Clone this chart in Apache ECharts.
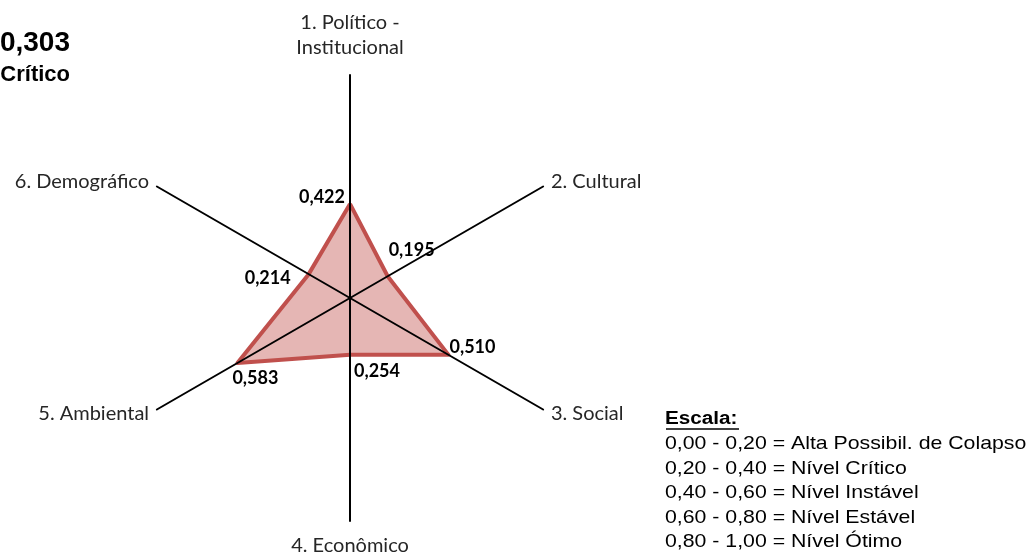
<!DOCTYPE html>
<html>
<head>
<meta charset="utf-8">
<script src="https://cdn.jsdelivr.net/npm/echarts@6/dist/echarts.min.js"></script>
<style>
  html, body { margin: 0; padding: 0; background: #fff; }
  #chart { width: 1032px; height: 553px; }
</style>
</head>
<body>
<div id="chart"></div>
<script>
// Sustainability dimensions, in their numbered order
const dimensions = [
  '1. Político -\nInstitucional',
  '2. Cultural',
  '3. Social',
  '4. Econômico',
  '5. Ambiental',
  '6. Demográfico'
];
// Index of each dimension (0 to 1)
const scores = [0.422, 0.195, 0.510, 0.254, 0.583, 0.214];
const scaleMin = 0;
const scaleMax = 1;

// Overall index and its level
const overallScore = 0.303;
const overallLevel = 'Crítico';

// Scale legend
const scaleTitle = 'Escala:';
const scaleRows = [
  '0,00 - 0,20 = Alta Possibil. de Colapso',
  '0,20 - 0,40 = Nível Crítico',
  '0,40 - 0,60 = Nível Instável',
  '0,60 - 0,80 = Nível Estável',
  '0,80 - 1,00 = Nível Ótimo'
];

const fmt = v => v.toFixed(3).replace('.', ',');

// Radar goes counter-clockwise from the top, so list the dimensions 1, 6, 5, 4, 3, 2
const radarOrder = [0, 5, 4, 3, 2, 1];

// Per-vertex label shift (dx, dy), applied through rich-text padding
const labelShift = [[-28, -7], [24, -26], [24, -8], [27, 17], [18, 15], [-41, 4]];
const labelFont = { fontFamily: 'Lato', fontWeight: 'bold', fontSize: 18, color: '#000' };
const rich = {};
labelShift.forEach(([dx, dy], i) => {
  rich['p' + i] = Object.assign({
    padding: [Math.max(0, 2 * dy), Math.max(0, -2 * dx), Math.max(0, -2 * dy), Math.max(0, 2 * dx)]
  }, labelFont);
});

const chart = echarts.init(document.getElementById('chart'));

const legendX = 665;
const rowY0 = 444;
const rowStep = 24.5;

chart.setOption({
  animation: false,
  backgroundColor: '#fff',
  radar: {
    z: 3,
    center: [350, 298],
    radius: 223,
    startAngle: 90,
    shape: 'polygon',
    splitNumber: 5,
    indicator: radarOrder.map(i => ({ name: dimensions[i], min: scaleMin, max: scaleMax })),
    nameGap: 9,
    axisName: {
      color: '#262626',
      fontFamily: 'Lato',
      fontSize: 20,
      lineHeight: 25,
      padding: [3, 0, 6, 0]
    },
    axisLine: { lineStyle: { color: '#000', width: 2 } },
    axisTick: { show: false },
    axisLabel: { show: false },
    splitLine: { show: false },
    splitArea: { show: false }
  },
  series: [{
    type: 'radar',
    z: 1,
    symbol: 'circle',
    symbolSize: 2,
    itemStyle: { color: '#c0504d' },
    lineStyle: { color: '#c0504d', width: 4 },
    areaStyle: { color: 'rgba(192,80,77,0.42)', opacity: 1 },
    label: {
      show: true,
      position: 'inside',
      align: 'center',
      verticalAlign: 'middle',
      formatter: p => {
        const i = scores.indexOf(p.value);
        return '{p' + i + '|' + fmt(p.value) + '}';
      },
      rich: rich
    },
    data: [{ value: radarOrder.map(i => scores[i]) }]
  }],
  graphic: [
    {
      type: 'text', x: 70, y: 43,
      style: {
        text: fmt(overallScore), align: 'right', verticalAlign: 'middle',
        font: 'bold 28px "Liberation Sans", Arial, sans-serif', fill: '#000'
      }
    },
    {
      type: 'text', x: 70, y: 75,
      style: {
        text: overallLevel, align: 'right', verticalAlign: 'middle',
        font: 'bold 22px "Liberation Sans", Arial, sans-serif', fill: '#000'
      }
    },
    {
      type: 'text', x: legendX, y: 419, scaleX: 1.15,
      style: {
        text: scaleTitle, align: 'left', verticalAlign: 'middle',
        font: 'bold 18px "Liberation Sans", Arial, sans-serif', fill: '#000'
      }
    },
    {
      type: 'line',
      shape: { x1: legendX + 1, y1: 429, x2: legendX + 74, y2: 429 },
      style: { stroke: '#000', lineWidth: 1.5 }
    }
  ].concat(scaleRows.map((t, k) => ({
    type: 'text', x: legendX, y: rowY0 + k * rowStep, scaleX: 1.15,
    style: {
      text: t, align: 'left', verticalAlign: 'middle',
      font: '18.5px "Liberation Sans", Arial, sans-serif', fill: '#000'
    }
  })))
});
</script>
</body>
</html>
